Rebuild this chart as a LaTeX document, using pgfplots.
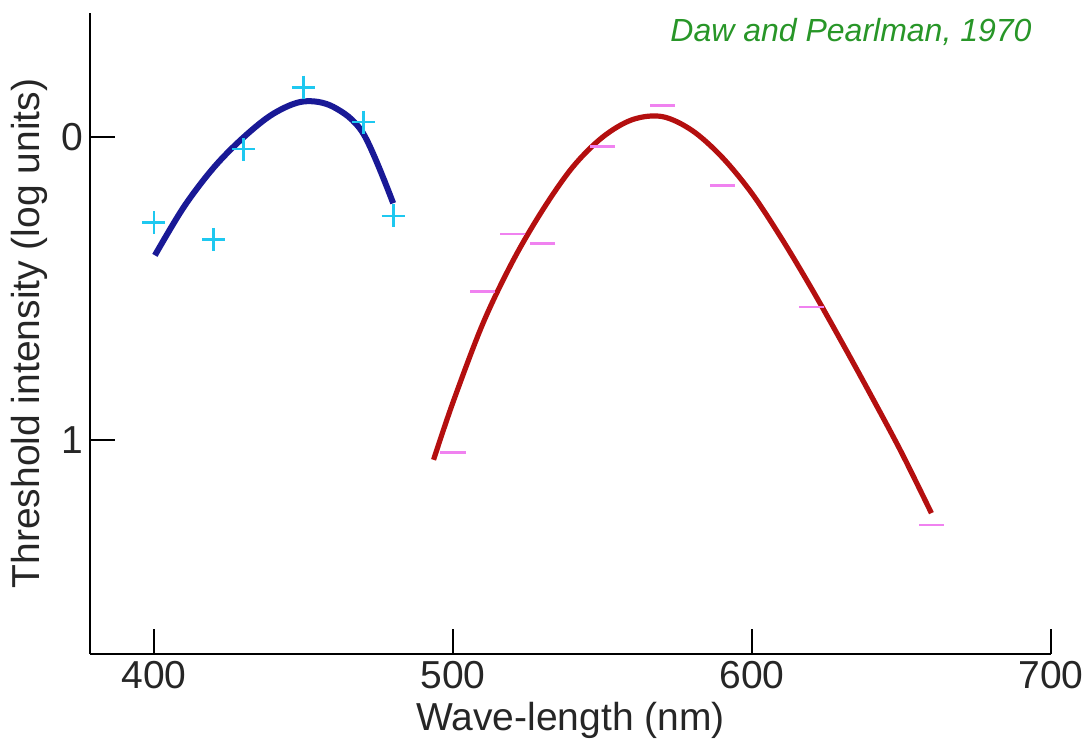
\documentclass[border=0pt]{standalone}
\usepackage{fontspec}
\setmainfont{Liberation Sans}
\usepackage{pgfplots}
\pgfplotsset{compat=1.18}
\definecolor{bluecurve}{RGB}{25,25,150}
\definecolor{redcurve}{RGB}{180,15,15}
\definecolor{crosscol}{RGB}{30,200,240}
\definecolor{dashcol}{RGB}{240,130,240}
\definecolor{greentext}{RGB}{40,150,40}
\begin{document}
\begin{tikzpicture}
\begin{axis}[
  at={(0,0)}, anchor=south west,
  scale only axis, width=480.5pt, height=320.5pt,
  xmin=378.6, xmax=700, ymin=-0.41, ymax=1.706, y dir=reverse,
  axis x line=bottom, axis y line=left,
  axis line style={-, line width=1.4pt, black},
  xtick={400,500,600,700}, ytick={0,1},
  minor tick num=0,
  tick align=inside, major tick length=12.5pt,
  tick style={line width=1pt, black},
  /pgf/number format/assume math mode=true,
  tick label style={font=\fontsize{19.5}{23}\selectfont, text=black!85},
  xlabel={Wave-length (nm)},
  ylabel={Threshold intensity (log units)},
  label style={font=\fontsize{19.5}{23}\selectfont, text=black!85},
  clip=false,
]
\addplot[bluecurve, line width=3pt, smooth, tension=0.55] coordinates {
  (400.3,0.39) (410,0.23) (420,0.10) (430,0.0) (440,-0.078) (450,-0.118)
  (460,-0.10) (470,-0.012) (480,0.218)
};
\addplot[redcurve, line width=2.6pt, smooth, tension=0.55] coordinates {
  (493.5,1.065) (500,0.875) (510,0.615) (520,0.409) (530,0.24) (540,0.099)
  (550,0.0) (560,-0.058) (570,-0.068) (580,-0.022) (590,0.066) (600,0.186)
  (610,0.336) (620,0.501) (630,0.676) (640,0.856) (650,1.041) (660,1.241)
};
\addplot[only marks, mark=+, mark size=5.75pt, crosscol, mark options={line width=1.4pt}] coordinates {
  (400,0.282) (420,0.337) (430,0.039) (450,-0.165) (470,-0.05) (480,0.26)
};
\addplot[only marks, mark=-, mark size=6.25pt, dashcol, mark options={line width=1.3pt}] coordinates {
  (500,1.04) (510,0.51) (520,0.32) (530,0.35) (550,0.03) (570,-0.105)
  (590,0.16) (620,0.56) (660,1.28)
};
\end{axis}
\node[greentext, font=\fontsize{16}{19}\selectfont\itshape] at (380.5pt,311pt) {Daw and Pearlman, 1970};
\pgfresetboundingbox
\useasboundingbox (-45pt,-47.5pt) rectangle (497.5pt,327pt);
\end{tikzpicture}
\end{document}
